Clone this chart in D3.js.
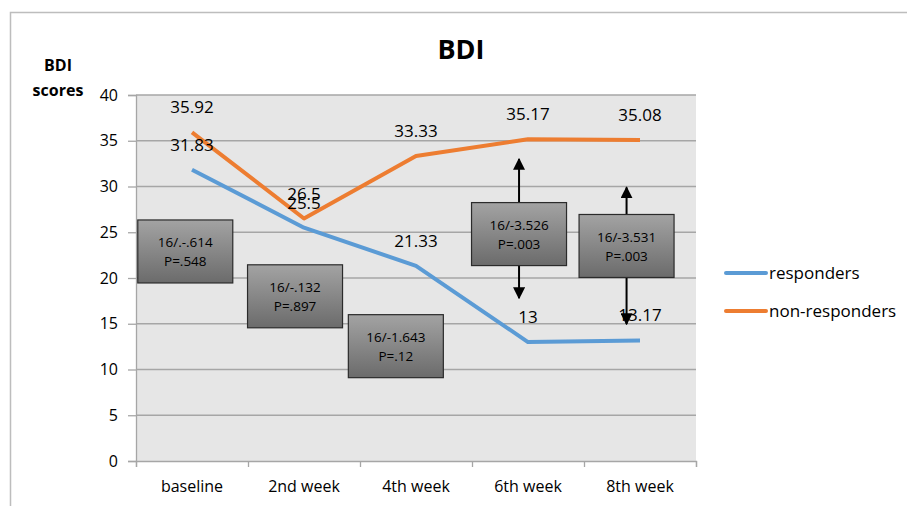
<!DOCTYPE html>
<html>
<head>
<meta charset="utf-8">
<script src="https://cdn.jsdelivr.net/npm/d3@7"></script>
<style>
    body { margin: 0; background: #fff; }
    text { font-family: "Open Sans", "Liberation Sans", sans-serif; fill: #000; }
</style>
</head>
<body>
<script>
//chart data
var weeks = ["baseline", "2nd week", "4th week", "6th week", "8th week"];
var responders = [31.83, 25.5, 21.33, 13, 13.17];
var nonResponders = [35.92, 26.5, 33.33, 35.17, 35.08];
var yTicks = [0, 5, 10, 15, 20, 25, 30, 35, 40];
var seriesNames = ["responders", "non-responders"];
var seriesColors = ["#5b9bd5", "#ed7d31"];

//annotation boxes (test statistic / p value)
var boxLines1 = ["16/.-.614", "16/-.132", "16/-1.643", "16/-3.526", "16/-3.531"];
var boxLines2 = ["P=.548", "P=.897", "P=.12", "P=.003", "P=.003"];

//box anchors in data units (category index, score) and arrow ends
var boxAt = [[-0.06, 22.9], [0.92, 18.0], [1.82, 12.55], [2.92, 24.8], [3.88, 23.5]];
var arrowUp = [null, null, null, 33.0, 29.9];
var arrowDown = [null, null, null, 17.8, 14.96];

window.onload = drawChart();

function drawChart(){
    var width = 907,
        height = 506;
    var left = 136, right = 696, top = 95, bottom = 461;

    var svg = d3.select("body")
        .append("svg")
        .attr("width", width)
        .attr("height", height);

    //gradient for the boxes
    var grad = svg.append("defs").append("linearGradient")
        .attr("id", "boxGrad")
        .attr("x1", 0).attr("y1", 0).attr("x2", 0).attr("y2", 1);
    grad.append("stop").attr("offset", "0%").attr("stop-color", "#a3a3a3");
    grad.append("stop").attr("offset", "100%").attr("stop-color", "#6b6b6b");

    //outer frame (only top and left visible)
    svg.append("path")
        .attr("d", "M10.5,506 V12.5 H907")
        .attr("fill", "none")
        .attr("stroke", "#bdbdbd")
        .attr("stroke-width", 1.5);

    var x = d3.scaleLinear().domain([-0.5, weeks.length - 0.5]).range([left, right]);
    var y = d3.scaleLinear().domain([0, 40]).range([bottom, top]);

    //plot background
    svg.append("rect")
        .attr("x", left).attr("y", top)
        .attr("width", right - left).attr("height", bottom - top)
        .attr("fill", "#e6e6e6");

    //grid lines
    svg.selectAll(".grid")
        .data(yTicks.filter(function(d){ return d > 0; }))
        .enter()
        .append("line")
        .attr("x1", left).attr("x2", right)
        .attr("y1", function(d){ return y(d); })
        .attr("y2", function(d){ return y(d); })
        .attr("stroke", "#a6a6a6")
        .attr("stroke-width", 1.3);

    //y axis
    var yAxis = svg.append("g")
        .attr("transform", "translate(" + left + ",0)")
        .call(d3.axisLeft(y).tickValues(yTicks).tickSize(8).tickPadding(10));
    yAxis.select(".domain").attr("stroke", "#a6a6a6").attr("stroke-width", 1.3);
    yAxis.selectAll(".tick line").attr("stroke", "#a6a6a6").attr("stroke-width", 1.3);
    yAxis.selectAll(".tick text").style("font-size", "16px");

    //x axis: ticks between categories
    var xAxis = svg.append("g")
        .attr("transform", "translate(0," + bottom + ")")
        .call(d3.axisBottom(x)
            .tickValues(d3.range(-0.5, weeks.length, 1))
            .tickSize(6)
            .tickFormat(""));
    xAxis.select(".domain").attr("stroke", "#a6a6a6").attr("stroke-width", 1.3);
    xAxis.selectAll(".tick line").attr("stroke", "#a6a6a6").attr("stroke-width", 1.3);

    svg.selectAll(".xlabel")
        .data(weeks)
        .enter()
        .append("text")
        .attr("x", function(d, i){ return x(i); })
        .attr("y", bottom + 31)
        .attr("text-anchor", "middle")
        .style("font-size", "16px")
        .text(function(d){ return d; });

    //lines
    var line = d3.line()
        .x(function(d, i){ return x(i); })
        .y(function(d){ return y(d); });

    var allSeries = [responders, nonResponders];
    allSeries.forEach(function(values, s){
        svg.append("path")
            .datum(values)
            .attr("d", line)
            .attr("fill", "none")
            .attr("stroke", seriesColors[s])
            .attr("stroke-width", 4)
            .attr("stroke-linejoin", "round");
    });

    //value labels
    allSeries.forEach(function(values, s){
        svg.selectAll(".lbl" + s)
            .data(values)
            .enter()
            .append("text")
            .attr("x", function(d, i){ return x(i); })
            .attr("y", function(d){ return y(d) - 19; })
            .attr("text-anchor", "middle")
            .style("font-size", "17px")
            .text(function(d){ return d; });
    });

    //arrows
    var marker = svg.select("defs").append("marker")
        .attr("id", "arrowHead")
        .attr("viewBox", "0 0 10 10")
        .attr("refX", 9).attr("refY", 5)
        .attr("markerWidth", 6).attr("markerHeight", 6)
        .attr("markerUnits", "strokeWidth")
        .attr("orient", "auto");
    marker.append("path").attr("d", "M0,0 L10,5 L0,10 Z").attr("fill", "#000");

    var boxH = 63, boxW = 95;
    boxAt.forEach(function(b, i){
        var cx = x(b[0]), cy = y(b[1]);
        if (arrowUp[i] !== null){
            svg.append("line")
                .attr("x1", cx).attr("x2", cx)
                .attr("y1", cy - boxH / 2).attr("y2", y(arrowUp[i]))
                .attr("stroke", "#000").attr("stroke-width", 2)
                .attr("marker-end", "url(#arrowHead)");
            svg.append("line")
                .attr("x1", cx).attr("x2", cx)
                .attr("y1", cy + boxH / 2).attr("y2", y(arrowDown[i]))
                .attr("stroke", "#000").attr("stroke-width", 2)
                .attr("marker-end", "url(#arrowHead)");
        }
    });

    //annotation boxes
    var boxes = svg.selectAll(".box")
        .data(boxAt)
        .enter()
        .append("g")
        .attr("transform", function(d){
            return "translate(" + x(d[0]) + "," + y(d[1]) + ")";
        });
    boxes.append("rect")
        .attr("x", -boxW / 2).attr("y", -boxH / 2)
        .attr("width", boxW).attr("height", boxH)
        .attr("fill", "url(#boxGrad)")
        .attr("stroke", "#2b2b2b")
        .attr("stroke-width", 1.2);
    boxes.append("text")
        .attr("text-anchor", "middle")
        .attr("y", -4)
        .style("font-size", "13.5px")
        .text(function(d, i){ return boxLines1[i]; });
    boxes.append("text")
        .attr("text-anchor", "middle")
        .attr("y", 15)
        .style("font-size", "13.5px")
        .text(function(d, i){ return boxLines2[i]; });

    //title
    svg.append("text")
        .attr("x", 461).attr("y", 59)
        .attr("text-anchor", "middle")
        .style("font-size", "27px")
        .style("font-weight", "bold")
        .text("BDI");

    //y axis title
    var yTitle = svg.append("text")
        .attr("text-anchor", "middle")
        .style("font-size", "16px")
        .style("font-weight", "bold");
    yTitle.append("tspan").attr("x", 58).attr("y", 71).text("BDI");
    yTitle.append("tspan").attr("x", 58).attr("y", 96).text("scores");

    //legend
    var legend = svg.selectAll(".legend")
        .data(seriesNames)
        .enter()
        .append("g")
        .attr("transform", function(d, i){
            return "translate(726," + (273 + i * 38) + ")";
        });
    legend.append("line")
        .attr("x1", 0).attr("x2", 40)
        .attr("stroke", function(d, i){ return seriesColors[i]; })
        .attr("stroke-width", 4)
        .attr("stroke-linecap", "round");
    legend.append("text")
        .attr("x", 43).attr("y", 6)
        .style("font-size", "17px")
        .text(function(d){ return d; });
}
</script>
</body>
</html>
